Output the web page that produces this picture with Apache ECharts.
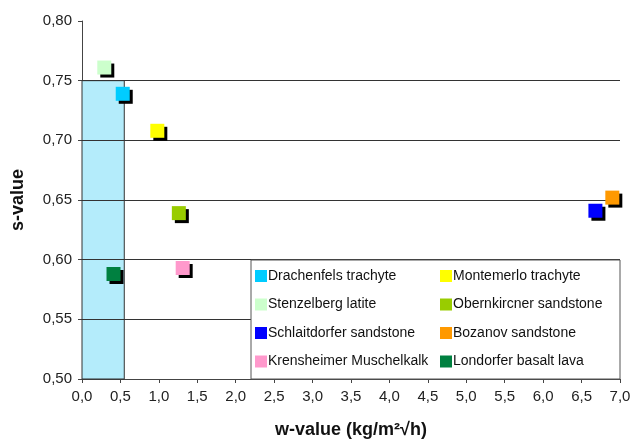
<!DOCTYPE html>
<html>
<head>
<meta charset="utf-8">
<script src="https://cdn.jsdelivr.net/npm/echarts@6/dist/echarts.min.js"></script>
<style>
  html, body { margin: 0; padding: 0; background: #fff; }
  #chart { width: 632px; height: 442px; }
</style>
</head>
<body>
<div id="chart"></div>
<script>
// stone names, colours and values
var stones = [
  'Drachenfels trachyte', 'Stenzelberg latite', 'Schlaitdorfer sandstone', 'Krensheimer Muschelkalk',
  'Montemerlo trachyte', 'Obernkircner sandstone', 'Bozanov sandstone', 'Londorfer basalt lava'
];
var colors = ['#00ccff', '#ccffcc', '#0000ff', '#ff99cc', '#ffff00', '#99cc00', '#ff9900', '#008040'];
var wValues = [0.53, 0.29, 6.68, 1.31, 0.98, 1.26, 6.90, 0.41];
var sValues = [0.739, 0.761, 0.641, 0.593, 0.708, 0.639, 0.652, 0.588];

// shaded zone and horizontal grid lines
var zoneW = [0, 0.55];
var zoneS = [0.50, 0.75];
var gridS = [0.55, 0.60, 0.65, 0.70, 0.75];

var leftCol = stones.slice(0, 4);
var rightCol = stones.slice(4);

var chart = echarts.init(document.getElementById('chart'));

var series = [];
//背景区域 + 网格线（网格线要压在背景上）
series.push({
  name: 'zone',
  type: 'scatter',
  data: [],
  markArea: {
    silent: true,
    itemStyle: { color: '#b4ecfb', borderColor: '#333', borderWidth: 1 },
    data: [[{ xAxis: zoneW[0], yAxis: zoneS[0] }, { xAxis: zoneW[1], yAxis: zoneS[1] }]]
  },
  markLine: {
    silent: true,
    symbol: 'none',
    label: { show: false },
    lineStyle: { color: '#333', width: 1, type: 'solid' },
    data: gridS.map(function (s) { return { yAxis: s }; })
  }
});
for (var i = 0; i < stones.length; i++) {
  series.push({
    name: stones[i],
    type: 'scatter',
    symbol: 'rect',
    symbolSize: 14,
    z: 6,
    itemStyle: {
      color: colors[i],
      opacity: 1,
      shadowColor: '#000',
      shadowBlur: 0,
      shadowOffsetX: 3,
      shadowOffsetY: 3
    },
    data: [[wValues[i], sValues[i]]]
  });
}

var legendBase = {
  orient: 'vertical',
  padding: 0,
  itemWidth: 12,
  itemHeight: 12,
  itemGap: 14.5,
  icon: 'rect',
  top: 269,
  z: 10,
  textStyle: { fontFamily: 'Liberation Sans', fontSize: 14, color: '#111', padding: [0, 0, 0, -4] },
  itemStyle: { opacity: 1, shadowColor: 'transparent', shadowOffsetX: 0, shadowOffsetY: 0 }
};

var option = {
  animation: false,
  textStyle: { fontFamily: 'Liberation Sans' },
  grid: { left: 82, right: 12, top: 21, bottom: 63, outerBoundsMode: 'none' },
  graphic: [{
    type: 'rect',
    z: 8,
    shape: { x: 251, y: 260, width: 369, height: 119 },
    style: { fill: '#fff', stroke: '#555', lineWidth: 1 }
  }],
  legend: [
    Object.assign({}, legendBase, { left: 255, data: leftCol }),
    Object.assign({}, legendBase, { left: 440, data: rightCol })
  ],
  xAxis: {
    type: 'value',
    min: 0,
    max: 7,
    interval: 0.5,
    name: 'w-value (kg/m²√h)',
    nameLocation: 'middle',
    nameGap: 42,
    nameTextStyle: { fontSize: 18, fontWeight: 'bold', color: '#111' },
    axisLine: { lineStyle: { color: '#444' } },
    axisTick: { length: 4, lineStyle: { color: '#444' } },
    axisLabel: {
      fontSize: 15, color: '#222', margin: 10,
      formatter: function (v) { return v.toFixed(1).replace('.', ','); }
    },
    splitLine: { show: false }
  },
  yAxis: {
    type: 'value',
    min: 0.5,
    max: 0.8,
    interval: 0.05,
    name: 's-value',
    nameLocation: 'middle',
    nameGap: 55,
    nameTextStyle: { fontSize: 18, fontWeight: 'bold', color: '#111' },
    axisLine: { show: true, lineStyle: { color: '#444' } },
    axisTick: { show: true, length: 4, lineStyle: { color: '#444' } },
    axisLabel: {
      fontSize: 15, color: '#222', margin: 10,
      formatter: function (v) { return v.toFixed(2).replace('.', ','); }
    },
    splitLine: { show: false }
  },
  series: series
};

chart.setOption(option);
</script>
</body>
</html>
